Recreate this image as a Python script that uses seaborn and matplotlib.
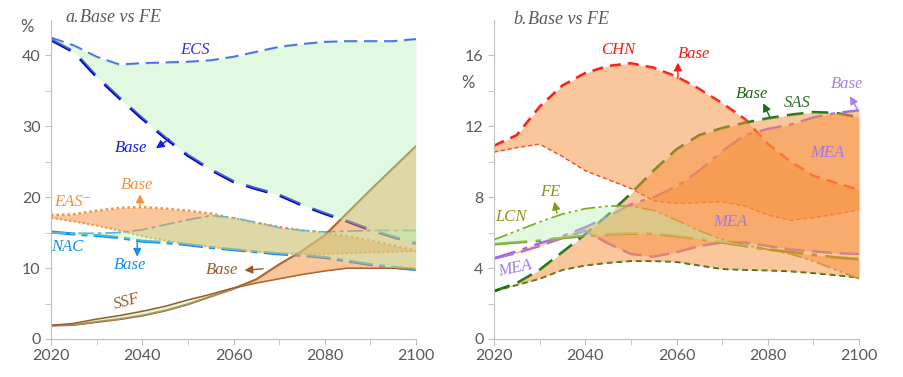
import matplotlib.pyplot as plt
import numpy as np
import seaborn as sns

# years shared by every series
years = np.arange(2020, 2101, 5)

# panel a (%)
ecs_fe = [42.5, 41.4, 39.8, 38.7, 38.9, 39.0, 39.1, 39.3, 39.8, 40.5, 41.2, 41.6, 41.9, 42.0, 42.0, 42.0, 42.3]
ecs_base = [42.2, 40.5, 37.0, 34.0, 31.1, 28.4, 25.9, 23.9, 22.2, 21.2, 20.3, 18.9, 17.7, 16.6, 15.4, 14.4, 13.5]
eas_base = [17.5, 17.6, 18.1, 18.5, 18.6, 18.4, 18.1, 17.7, 17.0, 16.4, 15.8, 15.3, 15.0, 14.5, 13.9, 13.2, 12.5]
eas_fe = [17.1, 16.6, 16.0, 15.3, 14.5, 13.9, 13.4, 13.0, 12.6, 12.3, 12.1, 12.0, 12.0, 12.1, 12.2, 12.3, 12.4]
nac_base = [15.1, 14.8, 14.6, 14.3, 13.8, 13.6, 13.3, 12.9, 12.6, 12.3, 12.0, 11.8, 11.5, 11.0, 10.5, 10.1, 9.8]
nac_fe = [15.0, 14.9, 14.9, 15.0, 15.4, 16.1, 16.8, 17.4, 17.1, 16.4, 15.7, 15.3, 15.1, 15.2, 15.3, 15.3, 15.3]
ssf_base = [1.9, 2.0, 2.4, 2.8, 3.3, 4.0, 4.9, 6.0, 7.1, 8.4, 10.5, 12.4, 14.6, 17.8, 21.0, 24.1, 27.2]
ssf_fe = [1.9, 2.2, 2.8, 3.3, 3.9, 4.6, 5.5, 6.3, 7.2, 7.9, 8.5, 9.1, 9.6, 10.0, 10.0, 10.0, 9.9]

# panel b (%)
chn_base = [10.9, 11.5, 13.1, 14.3, 15.0, 15.4, 15.55, 15.3, 14.8, 14.1, 13.3, 12.4, 11.0, 10.0, 9.2, 8.8, 8.4]
chn_fe = [10.55, 10.8, 11.0, 10.3, 9.5, 9.0, 8.5, 7.8, 7.65, 7.7, 7.75, 7.5, 7.0, 6.7, 6.85, 7.05, 7.3]
sas_base = [2.7, 3.15, 3.9, 4.9, 5.9, 7.0, 8.2, 9.5, 10.7, 11.5, 11.9, 12.2, 12.45, 12.65, 12.8, 12.75, 12.5]
sas_fe = [2.7, 3.05, 3.4, 3.9, 4.15, 4.3, 4.4, 4.4, 4.35, 4.15, 3.95, 3.9, 3.87, 3.82, 3.72, 3.6, 3.47]
mea_base = [4.55, 4.95, 5.4, 5.8, 6.3, 6.9, 7.6, 8.0, 8.6, 9.5, 10.6, 11.5, 11.85, 12.1, 12.5, 12.75, 12.9]
mea_fe = [4.55, 4.85, 5.25, 5.7, 6.1, 5.4, 4.8, 4.65, 4.9, 5.25, 5.45, 5.45, 5.25, 5.05, 4.95, 4.85, 4.8]
lcn_base = [5.35, 5.45, 5.55, 5.7, 5.82, 5.9, 5.95, 5.95, 5.8, 5.65, 5.45, 5.25, 5.05, 4.9, 4.75, 4.6, 4.5]
lcn_fe = [5.6, 6.1, 6.6, 7.05, 7.35, 7.5, 7.5, 7.25, 6.7, 6.1, 5.6, 5.3, 5.05, 4.8, 4.4, 3.9, 3.4]

ORANGE = "#f7913d"
GREEN = "#b3f2b3"
GRAY = "#595959"
SERIF = ["Liberation Serif", "DejaVu Serif"]

sns.set_style("ticks")
plt.rcParams["font.family"] = ["Lato", "DejaVu Sans"]

fig = plt.figure(figsize=(9.04, 3.77), dpi=100)
ax1 = fig.add_axes([51 / 904, 38 / 377, 365 / 904, 319 / 377])
ax2 = fig.add_axes([494 / 904, 38 / 377, 365 / 904, 319 / 377])


def line(ax, y, color, lw, dash):
    sns.lineplot(x=years, y=y, ax=ax, color=color, linewidth=lw,
                 linestyle=(0, dash) if dash else "-", zorder=2)


def band(ax, base, fe):
    base = np.array(base)
    fe = np.array(fe)
    # orange where Base is above FE, green where FE is above Base
    ax.fill_between(years, base, fe, where=base >= fe, interpolate=True,
                    color=ORANGE, alpha=0.5, lw=0, zorder=3)
    ax.fill_between(years, base, fe, where=fe >= base, interpolate=True,
                    color=GREEN, alpha=0.4, lw=0, zorder=4)


def note(ax, text, x, y, color, size=12, rot=0):
    ax.text(x, y, text, color=color, fontsize=size, style="italic",
            family=SERIF, ha="center", va="center", rotation=rot, zorder=6)


def arrow(ax, tail, head, color):
    ax.annotate("", xy=head, xytext=tail, zorder=6,
                arrowprops=dict(arrowstyle="-|>", color=color, lw=1,
                                mutation_scale=12, shrinkA=0, shrinkB=0))


# ---- panel a ----
line(ax1, ecs_fe, "#4d6fe6", 1.6, (6, 3))
line(ax1, ecs_base, "#0000cc", 2.3, (7, 4))
line(ax1, eas_base, ORANGE, 1.8, (1, 1.2))
line(ax1, eas_fe, ORANGE, 1.5, (1, 1.2))
line(ax1, nac_base, "#0a8ef0", 2.2, (8, 2, 2, 2))
line(ax1, nac_fe, "#5ab8d8", 1.4, (8, 2, 2, 2))
line(ax1, ssf_base, "#9c5a2a", 1.6, None)
line(ax1, ssf_fe, "#9c5a2a", 1.2, None)
band(ax1, eas_base, eas_fe)
band(ax1, ssf_base, ssf_fe)
band(ax1, ecs_base, ecs_fe)
band(ax1, nac_base, nac_fe)

note(ax1, "ECS", 2051.6, 40.7, "#3333ee")
note(ax1, "Base", 2037.6, 26.9, "#1a1aee")
arrow(ax1, (2045.9, 28.2), (2043.0, 26.9), "#1a1aee")
note(ax1, "Base", 2038.8, 21.7, ORANGE)
arrow(ax1, (2039.5, 18.6), (2039.5, 20.4), ORANGE)
note(ax1, "EAS\u207b", 2024.8, 19.3, ORANGE)
note(ax1, "NAC", 2023.5, 13.0, "#1a8fe8")
note(ax1, "Base", 2037.3, 10.4, "#1a8fe8")
arrow(ax1, (2038.9, 13.8), (2038.9, 11.6), "#1a8fe8")
note(ax1, "Base", 2057.5, 9.7, "#9c5a2a")
arrow(ax1, (2066.5, 9.9), (2062.4, 9.7), "#9c5a2a")
note(ax1, "SSF", 2036.7, 5.2, "#9c5a2a", rot=15)

# ---- panel b ----
line(ax2, chn_base, "#ff1a1a", 2.0, (4, 2.5))
line(ax2, chn_fe, "#ff1a1a", 1.0, (3, 2))
line(ax2, sas_base, "#1e7a1e", 2.0, (6, 3))
line(ax2, sas_fe, "#006400", 1.4, (3, 2))
line(ax2, mea_base, "#9966ff", 1.8, (9, 3, 2, 3))
line(ax2, mea_fe, "#9966ff", 1.8, (8, 3))
line(ax2, lcn_base, "#7a9a1a", 2.0, (12, 3, 2, 3))
line(ax2, lcn_fe, "#7fa81f", 1.3, (8, 2, 1.5, 2, 1.5, 2))
band(ax2, chn_base, chn_fe)
band(ax2, sas_base, sas_fe)
band(ax2, mea_base, mea_fe)
band(ax2, lcn_base, lcn_fe)

note(ax2, "CHN", 2047.2, 16.3, "#ff1a1a")
note(ax2, "Base", 2063.8, 16.1, "#ff1a1a")
arrow(ax2, (2060.3, 14.7), (2060.3, 15.6), "#ff1a1a")
note(ax2, "Base", 2076.5, 13.8, "#1a6e1a")
arrow(ax2, (2080.5, 12.5), (2079.0, 13.3), "#1a6e1a")
note(ax2, "SAS", 2086.4, 13.3, "#2f6e2f")
note(ax2, "Base", 2097.4, 14.4, "#a680f0")
arrow(ax2, (2099.8, 12.9), (2098.0, 13.7), "#a680f0")
note(ax2, "MEA", 2093.0, 10.5, "#9f7ae8")
note(ax2, "MEA", 2071.7, 6.6, "#9f7ae8")
note(ax2, "MEA", 2024.6, 4.0, "#9f7ae8", rot=12)
note(ax2, "LCN", 2023.7, 6.9, "#7f9a1a")
note(ax2, "FE", 2032.3, 8.3, "#7f9a1a")
arrow(ax2, (2033.8, 7.1), (2033.2, 7.75), "#7f9a1a")

# ---- axes cosmetics ----
for ax, ymax, step in [(ax1, 45, 5), (ax2, 18, 2)]:
    ax.set_xlim(2020, 2100)
    ax.set_ylim(0, ymax)
    ax.set_xticks(range(2020, 2101, 20))
    ax.set_xticks(range(2030, 2100, 20), minor=True)
    ax.set_yticks(range(0, ymax + 1, 2 * step))
    ax.set_yticks(range(step, ymax, 2 * step), minor=True)
    ax.set_xlabel("")
    ax.set_ylabel("")
    for s in ["top", "right"]:
        ax.spines[s].set_visible(False)
    for s in ["left", "bottom"]:
        ax.spines[s].set_color("#bfbfbf")
    ax.tick_params(which="both", direction="out", length=4, color="#bfbfbf",
                   labelcolor=GRAY, labelsize=11.5)

ax1.set_yticks(range(0, 41, 10))
ax2.set_yticks(range(0, 17, 4))

fig.text(65 / 904, 1 - 18 / 377, "a.", color=GRAY, fontsize=13,
         style="italic", family=SERIF, va="center")
fig.text(80 / 904, 1 - 18 / 377, "Base vs FE", color=GRAY, fontsize=13,
         style="italic", family=SERIF, va="center")
fig.text(513 / 904, 1 - 20 / 377, "b.", color=GRAY, fontsize=13,
         style="italic", family=SERIF, va="center")
fig.text(528 / 904, 1 - 20 / 377, "Base vs FE", color=GRAY, fontsize=13,
         style="italic", family=SERIF, va="center")
fig.text(27 / 904, 1 - 27 / 377, "%", color=GRAY, fontsize=12,
         ha="center", va="center")
fig.text(468 / 904, 1 - 83 / 377, "%", color=GRAY, fontsize=12,
         ha="center", va="center")

fig.savefig("out.png", dpi=100)
